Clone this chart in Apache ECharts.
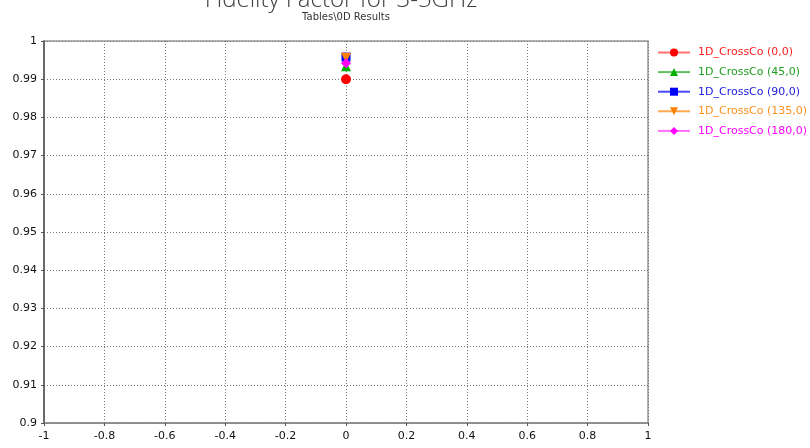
<!DOCTYPE html>
<html>
<head>
<meta charset="utf-8">
<script src="https://cdn.jsdelivr.net/npm/echarts@6/dist/echarts.min.js"></script>
<style>html,body{margin:0;padding:0;background:#fff}#c{width:810px;height:448px}</style>
</head>
<body>
<div id="c"></div>
<script>
const titleText = 'Fidelity Factor for 3-5GHz';
const subtitleText = 'Tables\\0D Results';
const seriesNames = ['1D_CrossCo (0,0)', '1D_CrossCo (45,0)', '1D_CrossCo (90,0)', '1D_CrossCo (135,0)', '1D_CrossCo (180,0)'];
const xValues = [0];
const yCross0 = [0.9900];
const yCross45 = [0.9934];
const yCross90 = [0.9958];
const yCross135 = [0.9956];
const yCross180 = [0.9942];
const yTickMin = 0.9, yTickMax = 1, yTickStep = 0.01;
const xTickMin = -1, xTickMax = 1, xTickStep = 0.2;

const allY = [yCross0, yCross45, yCross90, yCross135, yCross180];
const markColors = ['#ff0000', '#00b000', '#0000ff', '#ff8000', '#ff00ff'];
const lineColors = ['#ff7070', '#60c060', '#4848ff', '#ffa850', '#ff70ff'];
const textColors = ['#ff2020', '#20a020', '#2020e0', '#ff9020', '#ff00ff'];
const symbols = ['circle', 'triangle', 'rect', 'triangle', 'diamond'];
const rotates = [0, 0, 0, 180, 0];

const series = seriesNames.map((n, i) => ({
  name: n,
  type: 'line',
  data: xValues.map((x, j) => [x, allY[i][j]]),
  symbol: symbols[i],
  symbolRotate: rotates[i],
  symbolSize: symbols[i] === 'rect' ? 9 : 10,
  itemStyle: { color: markColors[i] },
  lineStyle: { color: lineColors[i], width: 1 },
  z: 10 + i
}));

const chart = echarts.init(document.getElementById('c'), null, { renderer: 'canvas' });
chart.setOption({
  animation: false,
  backgroundColor: '#fff',
  graphic: [
    { type: 'text', x: 341, y: 0, style: { text: titleText, font: '300 24px "Open Sans"', fill: '#404040', align: 'center', verticalAlign: 'middle' } },
    { type: 'text', x: 346, y: 17, style: { text: subtitleText, font: '10px "DejaVu Sans"', fill: '#333', align: 'center', verticalAlign: 'middle' } }
  ],
  grid: { left: 44, right: 162, top: 41, bottom: 25, show: true, borderColor: '#999', borderWidth: 1.5, containLabel: false },
  legend: {
    orient: 'vertical', left: 652, top: 42, padding: 5,
    itemWidth: 32, itemHeight: 10, itemGap: 8.6,
    data: seriesNames.map((n, i) => ({ name: n, textStyle: { color: textColors[i] } })),
    textStyle: { fontFamily: 'DejaVu Sans', fontSize: 11, padding: [0, 0, 0, 3], lineHeight: 10 }
  },
  xAxis: {
    type: 'value', min: xTickMin, max: xTickMax, interval: xTickStep,
    axisLine: { show: true, onZero: false, lineStyle: { color: '#888', width: 1.5 } },
    axisTick: { show: true, length: 3, lineStyle: { color: '#555' } },
    axisLabel: { color: '#111', fontFamily: 'DejaVu Sans', fontSize: 11, margin: 8 },
    splitLine: { show: true, lineStyle: { color: '#777', type: [1, 2], width: 1 } }
  },
  yAxis: {
    type: 'value', min: yTickMin, max: yTickMax, interval: yTickStep,
    axisLine: { show: true, onZero: false, lineStyle: { color: '#555', width: 1.5 } },
    axisTick: { show: true, length: 3, lineStyle: { color: '#555' } },
    axisLabel: { color: '#111', fontFamily: 'DejaVu Sans', fontSize: 11, margin: 7, formatter: v => String(+v.toFixed(2)) },
    splitLine: { show: true, lineStyle: { color: '#777', type: [1, 2], width: 1 } }
  },
  series: series
});
</script>
</body>
</html>
